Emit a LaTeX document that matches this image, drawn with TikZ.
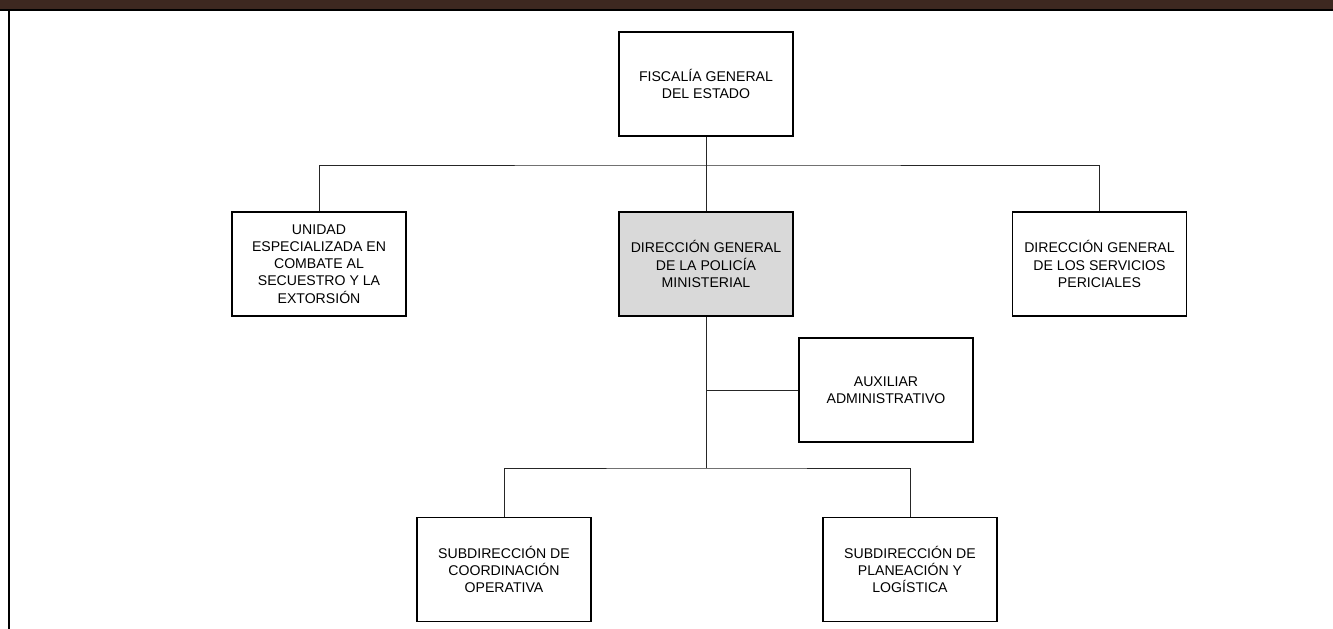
\documentclass[tikz,border=0pt]{standalone}
\usepackage{fontspec}
\setmainfont{Liberation Sans}
\begin{document}
\begin{tikzpicture}[x=1pt,y=-1pt,
  orgbox/.style={draw=black,line width=1.1pt,fill=white,minimum width=174pt,minimum height=104pt,
    inner sep=0pt,align=center,font=\fontsize{14.1}{17.2}\selectfont},
  conn/.style={draw=black!85,line width=0.8pt}]
\useasboundingbox (0,0) rectangle (1333,629);
\fill[white] (0,0) rectangle (1333,629);
\fill[fill={rgb,255:red,61;green,40;blue,32}] (0,0) rectangle (1333,8.7);
\fill[black] (0,8.7) rectangle (1333,11);
\fill[black] (7.5,11) rectangle (10,629);

\node[orgbox] (fge) at (706,84) {FISCALÍA GENERAL\\DEL ESTADO};
\node[orgbox] (uni) at (319,264) {UNIDAD\\ESPECIALIZADA EN\\COMBATE AL\\SECUESTRO Y LA\\EXTORSIÓN};
\node[orgbox,fill={rgb,255:red,217;green,217;blue,217}] (dgpm) at (706,264) {DIRECCIÓN GENERAL\\DE LA POLICÍA\\MINISTERIAL};
\node[orgbox] (dgsp) at (1099.5,264) {DIRECCIÓN GENERAL\\DE LOS SERVICIOS\\PERICIALES};
\node[orgbox] (aux) at (886,390) {AUXILIAR\\ADMINISTRATIVO};
\node[orgbox] (sco) at (504,569.5) {SUBDIRECCIÓN DE\\COORDINACIÓN\\OPERATIVA};
\node[orgbox] (spl) at (910,569.5) {SUBDIRECCIÓN DE\\PLANEACIÓN Y\\LOGÍSTICA};

\coordinate (b1) at (706,165);
\coordinate (b2) at (706,468);
\draw[conn] (fge.south) -- (dgpm.north);
\draw[conn] (uni.north) |- (b1) -| (dgsp.north);
\draw[conn] (dgpm.south) -- (b2);
\draw[conn] (sco.north) |- (b2) -| (spl.north);
\draw[conn] (aux.west) -- (aux.west -| dgpm.south);
\end{tikzpicture}
\end{document}
